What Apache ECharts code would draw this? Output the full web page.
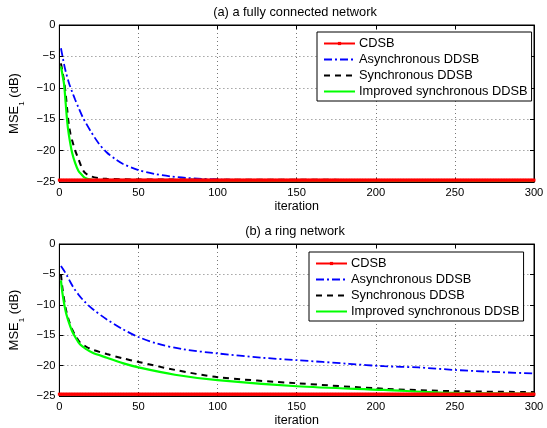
<!DOCTYPE html>
<html>
<head>
<meta charset="utf-8">
<script src="https://cdn.jsdelivr.net/npm/echarts@6/dist/echarts.min.js"></script>
<style>
  html, body { margin: 0; padding: 0; background: #fff; }
  #chart { width: 547px; height: 428px; }
</style>
</head>
<body>
<div id="chart"></div>
<script>
// x ticks / y ticks
const xTicks = [0, 50, 100, 150, 200, 250, 300];
const yTicks = [-25, -20, -15, -10, -5, 0];
const seriesNames = ["CDSB", "Asynchronous DDSB", "Synchronous DDSB", "Improved synchronous DDSB"];

// (a) fully connected network, [iteration, MSE dB]
const cdsbA = [[0, -24.7], [300, -24.7]];
const asyncA = [[1, -3.7], [2, -5], [3, -6.3], [4, -7.4], [6, -9.2], [8, -10.6], [10, -11.9], [12, -13.1],
  [15, -14.8], [20, -17], [25, -18.9], [30, -20.3], [35, -21.3], [40, -22.1], [50, -23.1], [60, -23.7],
  [70, -24.1], [80, -24.35], [90, -24.5], [100, -24.6], [120, -24.7], [300, -24.7]];
const syncA = [[1, -6.1], [2, -7.5], [3, -9], [4, -11], [5, -13.6], [6, -15.9], [7, -17.3], [8, -18.3],
  [10, -20], [12, -21.3], [14, -22.6], [16, -23.5], [20, -24.1], [25, -24.4], [30, -24.5], [50, -24.6], [300, -24.7]];
const impA = [[1, -6.6], [2, -8], [3, -9.5], [4, -12.5], [5, -15.5], [6, -17.5], [7, -19], [8, -20.3],
  [10, -22], [12, -23.2], [14, -23.8], [16, -24.3], [20, -24.6], [25, -24.75], [300, -24.8]];

// (b) ring network
const cdsbB = [[0, -24.7], [300, -24.7]];
const asyncB = [[1, -3.6], [3, -4.4], [5, -5.3], [7, -6.3], [9, -7.2], [12, -8.3], [16, -9.5], [22, -10.9],
  [30, -12.4], [40, -14], [50, -15.3], [62, -16.4], [78, -17.3], [100, -18], [128, -18.7], [150, -19.1],
  [183, -19.7], [205, -20.1], [227, -20.3], [249, -20.7], [271, -21], [300, -21.3]];
const syncB = [[1, -5], [2, -7.4], [4, -10.6], [6, -12.6], [8, -14], [10, -15], [13, -16.2], [17, -16.9],
  [21, -17.4], [30, -18.1], [40, -18.8], [50, -19.4], [73, -20.7], [100, -21.9], [150, -22.9], [205, -23.8],
  [249, -24.2], [300, -24.35]];
const impB = [[1, -6], [2, -8.2], [4, -11.1], [6, -12.9], [8, -14.3], [10, -15.3], [13, -16.5], [17, -17.3],
  [21, -17.9], [30, -18.7], [40, -19.6], [50, -20.3], [73, -21.5], [100, -22.4], [150, -23.4], [205, -24],
  [249, -24.5], [300, -24.6]];

// fill CDSB with a value at every iteration so the markers show like matlab
function everyIter(pts) {
  const out = [];
  for (let i = 0; i <= 300; i++) out.push([i, pts[0][1]]);
  return out;
}

const FONT = "Liberation Sans";
const fmtY = (v) => String(v).replace("-", "\u2212");
const grids = [
  { left: 58, top: 25, width: 476, height: 157 },
  { left: 58, top: 244, width: 476, height: 156 },
];

function xAx(g, pos, main) {
  return {
    type: "value", gridIndex: g, position: pos, min: 0, max: 300, interval: 50,
    name: main ? "iteration" : "", nameLocation: "middle", nameGap: 18,
    nameTextStyle: { fontFamily: FONT, fontSize: 12.5, color: "#000" },
    axisLine: { show: true, onZero: false, lineStyle: { color: "#000", width: 1 } },
    axisTick: { show: true, inside: true, length: 4, lineStyle: { color: "#000" } },
    axisLabel: { show: main, fontFamily: FONT, fontSize: 11.2, color: "#000", margin: 5 },
    splitLine: { show: main, lineStyle: { type: [1, 3], color: "#777", width: 1 } },
  };
}
function yAx(g, pos, main) {
  return {
    type: "value", gridIndex: g, position: pos, min: -25, max: 0, interval: 5,
    name: main ? "MSE{s|1} (dB)" : "", nameLocation: "middle", nameGap: 30, nameRotate: 90,
    nameTextStyle: {
      fontFamily: FONT, fontSize: 13, color: "#000",
      rich: {
        s: { fontFamily: FONT, fontSize: 8, color: "#000", verticalAlign: "bottom", lineHeight: 22 },
      },
    },
    axisLine: { show: true, onZero: false, lineStyle: { color: "#000", width: 1 } },
    axisTick: { show: true, inside: true, length: 4, lineStyle: { color: "#000" } },
    axisLabel: { show: main, fontFamily: FONT, fontSize: 11.2, color: "#000", margin: 4, formatter: fmtY },
    splitLine: { show: main, lineStyle: { type: [1, 3], color: "#777", width: 1 } },
  };
}

function seriesFor(g, cdsb, asy, syn, imp) {
  return [
    {
      name: seriesNames[0], type: "line", xAxisIndex: g, yAxisIndex: g, data: everyIter(cdsb),
      symbol: "rect", symbolSize: 3, showSymbol: true, showAllSymbol: true,
      itemStyle: { color: "#ff0000" }, lineStyle: { color: "#ff0000", width: 1 }, silent: true,
    },
    {
      name: seriesNames[1], type: "line", xAxisIndex: g, yAxisIndex: g, data: asy, smooth: 0.3,
      symbol: "none", itemStyle: { color: "#0000ff" },
      lineStyle: { color: "#0000ff", width: 1.8, type: [8, 3, 2, 3] },
    },
    {
      name: seriesNames[2], type: "line", xAxisIndex: g, yAxisIndex: g, data: syn, smooth: 0.3,
      symbol: "none", itemStyle: { color: "#000" },
      lineStyle: { color: "#000", width: 2, type: [6, 5] },
    },
    {
      name: seriesNames[3], type: "line", xAxisIndex: g, yAxisIndex: g, data: imp, smooth: 0.3,
      symbol: "none", itemStyle: { color: "#00ff00" },
      lineStyle: { color: "#00ff00", width: 2.2 },
    },
  ];
}

function legendAt(left, top) {
  return {
    data: [
      { name: seriesNames[0], itemStyle: { opacity: 1 } },
      seriesNames[1], seriesNames[2], seriesNames[3],
    ],
    orient: "vertical", left: left, top: top,
    backgroundColor: "#fff", borderColor: "#000", borderWidth: 1, borderRadius: 0,
    padding: [5, 4, 3, 6], itemWidth: 31, itemHeight: 4, itemGap: 3,
    itemStyle: { opacity: 0 },
    textStyle: { fontFamily: FONT, fontSize: 12.8, color: "#000", padding: [0, 0, 0, -1] },
    selectedMode: false,
  };
}

const chart = echarts.init(document.getElementById("chart"), null, { renderer: "canvas" });
chart.setOption({
  animation: false,
  backgroundColor: "#fff",
  title: [
    { text: "(a) a fully connected network", left: 295, top: 6, padding: 0, textAlign: "center",
      textStyle: { fontFamily: FONT, fontSize: 12.8, fontWeight: "normal", color: "#000" } },
    { text: "(b) a ring network", left: 295, top: 225, padding: 0, textAlign: "center",
      textStyle: { fontFamily: FONT, fontSize: 12.8, fontWeight: "normal", color: "#000" } },
  ],
  grid: grids.map((g) => Object.assign({ show: true, borderColor: "#000", borderWidth: 1 }, g)),
  legend: [legendAt(317, 32), legendAt(309, 252)],
  xAxis: [xAx(0, "bottom", true), xAx(1, "bottom", true), xAx(0, "top", false), xAx(1, "top", false)],
  yAxis: [yAx(0, "left", true), yAx(1, "left", true), yAx(0, "right", false), yAx(1, "right", false)],
  series: seriesFor(0, cdsbA, asyncA, syncA, impA).concat(seriesFor(1, cdsbB, asyncB, syncB, impB)),
});
</script>
</body>
</html>
